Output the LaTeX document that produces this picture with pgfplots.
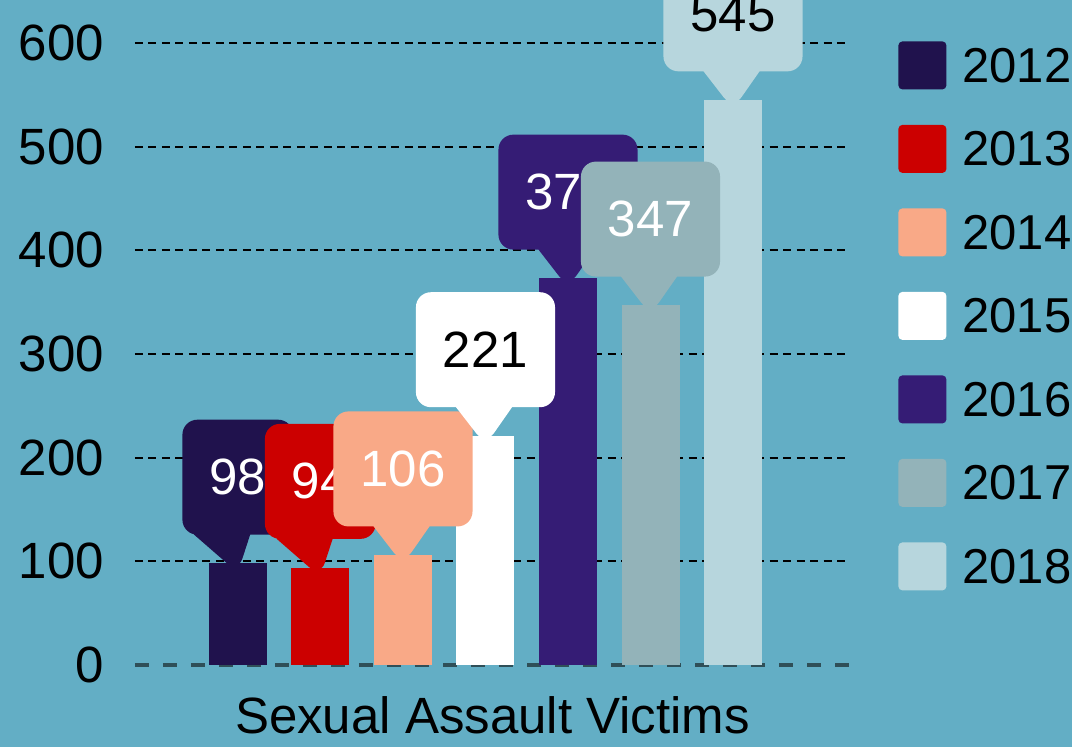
\documentclass[border=0pt]{standalone}
\usepackage{pgfplots}
\pgfplotsset{compat=1.18}
\usetikzlibrary{shapes.callouts}
\usepackage{fontspec}
\setmainfont{Liberation Sans}

\definecolor{bg}{HTML}{63AEC5}
\definecolor{zeroc}{HTML}{2F4F58}
\definecolor{c12}{HTML}{20124D}
\definecolor{c13}{HTML}{CC0000}
\definecolor{c14}{HTML}{F9A987}
\definecolor{c15}{HTML}{FFFFFF}
\definecolor{c16}{HTML}{351C75}
\definecolor{c17}{HTML}{93B3B9}
\definecolor{c18}{HTML}{B7D6DD}

% speech-bubble label above each bar
\tikzset{bubble/.style={rectangle callout, fill=#1, draw=none, rounded corners=7.5pt,
    minimum height=57.5pt, inner xsep=13.5pt, inner ysep=0pt,
    callout relative pointer={(0pt,-19pt)}, callout pointer width=28pt,
    anchor=pointer, yshift=-5pt}}
\pgfplotsset{sq legend/.style={legend image code/.code={%
    \fill[##1, draw=none, rounded corners=2pt] (0pt,-11.5pt) rectangle (24pt,12.5pt);}}}

\begin{document}
\begin{tikzpicture}[font=\fontsize{25.5}{30}\selectfont]
\fill[bg] (-67.5pt,-41pt) rectangle (468.5pt,332.5pt);
\begin{axis}[
    at={(0,0)}, anchor=south west,
    scale only axis, width=357.5pt, height=311pt,
    xmin=-1.248, xmax=7.418, ymin=0, ymax=600,
    ybar,
    every axis plot/.append style={bar width=29pt, bar shift=0pt, sq legend},
    xtick=\empty,
    ytick={100,200,...,600},
    extra y ticks={0},
    extra y tick style={grid style={draw=zeroc, line width=2pt, dash pattern=on 7pt off 7pt}},
    ymajorgrids,
    grid style={black, line width=1pt, dash pattern=on 4pt off 2.75pt},
    major tick length=0pt,
    axis line style={draw=none},
    yticklabel style={xshift=-12pt},
    /pgf/number format/assume math mode=true,
    clip=false,
    xlabel={Sexual Assault Victims},
    xlabel style={at={(axis description cs:0.5,0)}, anchor=center, yshift=-25pt},
    legend style={draw=none, fill=none, at={(1,1)}, anchor=north west,
        xshift=24pt, yshift=1pt, inner sep=0pt, row sep=17.75pt, column sep=6pt,
        font=\fontsize{24.5}{29}\selectfont},
    legend cell align=left,
]
% bars
\addplot[fill=c12, draw=none] coordinates {(0,98)};
\addplot[fill=c13, draw=none] coordinates {(1,94)};
\addplot[fill=c14, draw=none] coordinates {(2,106)};
\addplot[fill=c15, draw=none] coordinates {(3,221)};
\addplot[fill=c16, draw=none] coordinates {(4,373)};
\addplot[fill=c17, draw=none] coordinates {(5,347)};
\addplot[fill=c18, draw=none] coordinates {(6,545)};
\legend{2012,2013,2014,2015,2016,2017,2018}
% value bubbles, drawn after all bars so they sit in front
\addplot[draw=none, fill=none, forget plot, nodes near coords,
    every node near coord/.append style={bubble=c12, text=white}] coordinates {(0,98)};
\addplot[draw=none, fill=none, forget plot, nodes near coords,
    every node near coord/.append style={bubble=c13, text=white}] coordinates {(1,94)};
\addplot[draw=none, fill=none, forget plot, nodes near coords,
    every node near coord/.append style={bubble=c14, text=white}] coordinates {(2,106)};
\addplot[draw=none, fill=none, forget plot, nodes near coords,
    every node near coord/.append style={bubble=c15, text=black}] coordinates {(3,221)};
\addplot[draw=none, fill=none, forget plot, nodes near coords,
    every node near coord/.append style={bubble=c16, text=white}] coordinates {(4,373)};
\addplot[draw=none, fill=none, forget plot, nodes near coords,
    every node near coord/.append style={bubble=c17, text=white}] coordinates {(5,347)};
\addplot[draw=none, fill=none, forget plot, nodes near coords,
    every node near coord/.append style={bubble=c18, text=black}] coordinates {(6,545)};
\end{axis}
\pgfresetboundingbox
\path (-67.5pt,-41pt) rectangle (468.5pt,332.5pt);
\end{tikzpicture}
\end{document}
